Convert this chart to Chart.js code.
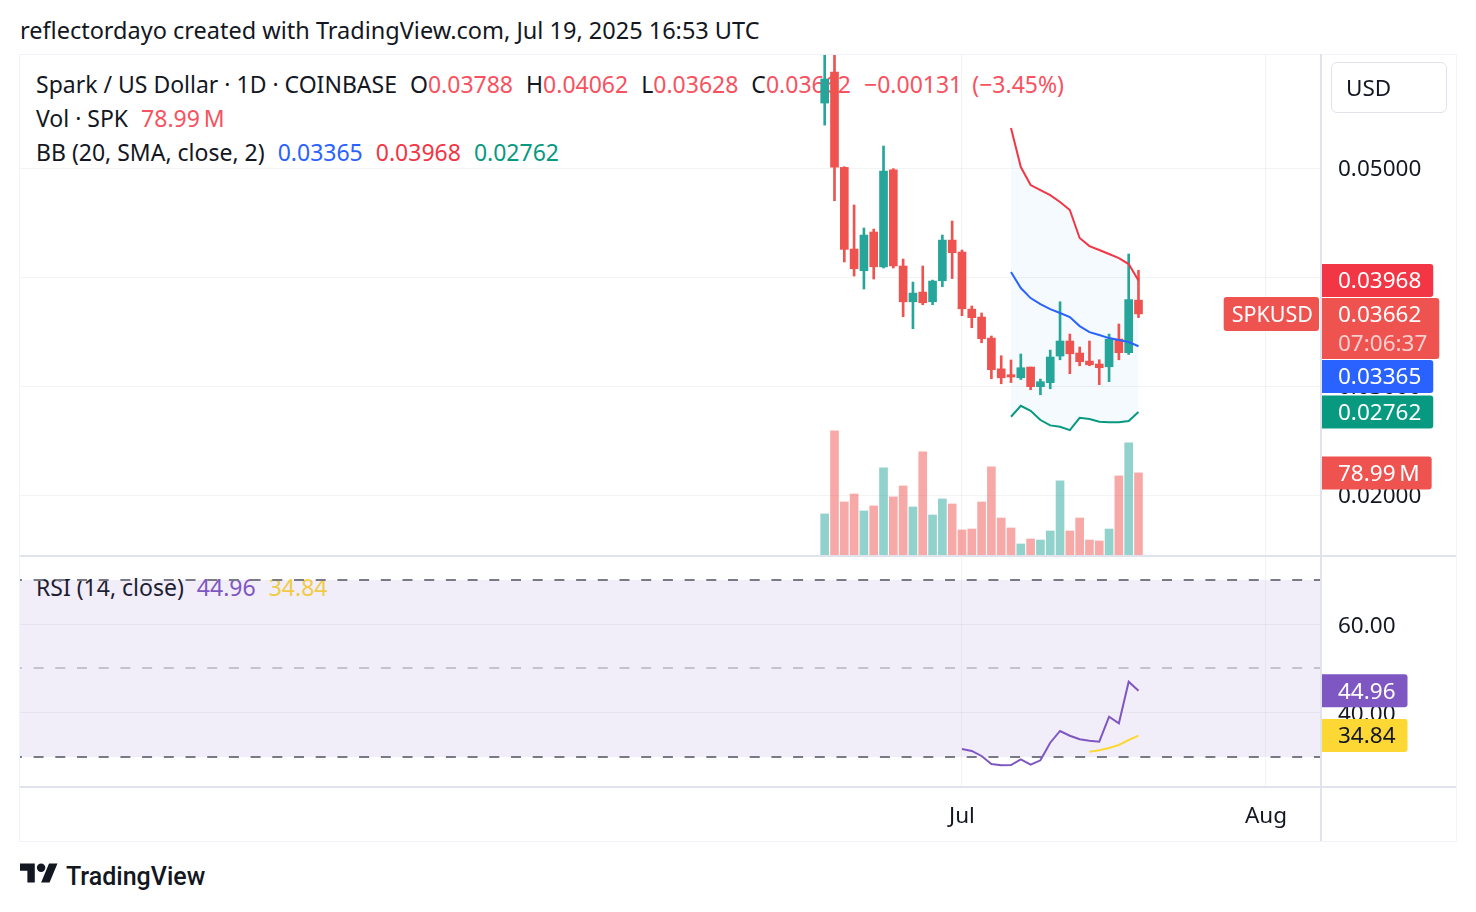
<!DOCTYPE html>
<html><head><meta charset="utf-8">
<script src="https://cdn.jsdelivr.net/npm/chart.js@4.4.1/dist/chart.umd.min.js"></script>
<style>
html,body{margin:0;padding:0;background:#fff;width:1476px;height:912px;overflow:hidden;font-family:"Noto Sans",Roboto,sans-serif;color:#131722;}
#title{position:absolute;left:20px;top:15px;font-size:23.5px;line-height:30px;white-space:nowrap;}
.leg{position:absolute;left:36px;font-size:23px;line-height:30px;white-space:nowrap;z-index:0;}
.leg span.g{margin-left:13px;}
canvas{position:absolute;z-index:1;}
.ln{position:absolute;z-index:2;}
#usd{position:absolute;left:1331px;top:62px;width:114px;height:49px;border:1px solid #e0e3eb;border-radius:6px;font-size:22.5px;line-height:49px;padding-left:0;box-sizing:content-box;z-index:3;}
#usd span{margin-left:14px;}
#wm{position:absolute;left:20px;top:859px;}
#wmt{position:absolute;left:66px;top:861px;font-family:Roboto,sans-serif;font-size:25px;font-weight:500;line-height:32px;color:#131722;}
</style></head>
<body>
<div id="title">reflectordayo created with TradingView.com, Jul 19, 2025 16:53 UTC</div>
<div class="leg" id="leg1" style="top:69px"></div>
<div class="leg" id="leg2" style="top:103px"></div>
<div class="leg" id="leg3" style="top:137px"></div>
<div class="leg" id="leg4" style="top:572px"></div>
<canvas id="cPrice" width="1436" height="500" style="left:20px;top:55px;width:1436px;height:500px"></canvas>
<canvas id="cRsi" width="1436" height="287" style="left:20px;top:555px;width:1436px;height:287px"></canvas>
<div class="ln" style="left:20px;top:54px;width:1436px;height:1px;background:#f0f3fa"></div>
<div class="ln" style="left:19px;top:54px;width:1px;height:788px;background:#f0f3fa"></div>
<div class="ln" style="left:1456px;top:54px;width:1px;height:788px;background:#f0f3fa"></div>
<div class="ln" style="left:1320px;top:54px;width:2px;height:788px;background:#e0e3eb"></div>
<div class="ln" style="left:20px;top:555px;width:1436px;height:2px;background:#e0e3eb"></div>
<div class="ln" style="left:20px;top:786px;width:1436px;height:2px;background:#e0e3eb"></div>
<div class="ln" style="left:20px;top:841px;width:1437px;height:1px;background:#f0f3fa"></div>
<div id="usd"><span>USD</span></div>
<svg id="wm" width="38" height="30" viewBox="0 0 36 28"><path d="M14 22H7V11H0V4h14v18zM28 22h-8l7.5-18h8L28 22z" fill="#131722"/><circle cx="20" cy="8" r="4" fill="#131722"/></svg>
<div id="wmt">TradingView</div>
<script>
// ---------- DATA ----------
const dates = ['2025-06-17','2025-06-18','2025-06-19','2025-06-20','2025-06-21','2025-06-22','2025-06-23','2025-06-24','2025-06-25','2025-06-26','2025-06-27','2025-06-28','2025-06-29','2025-06-30','2025-07-01','2025-07-02','2025-07-03','2025-07-04','2025-07-05','2025-07-06','2025-07-07','2025-07-08','2025-07-09','2025-07-10','2025-07-11','2025-07-12','2025-07-13','2025-07-14','2025-07-15','2025-07-16','2025-07-17','2025-07-18','2025-07-19'];
const opens  = [0.05596,0.05881,0.05006,0.04257,0.04058,0.04413,0.04092,0.04984,0.04101,0.03773,0.03862,0.03773,0.03966,0.04339,0.04229,0.03706,0.03633,0.03440,0.03158,0.03104,0.03076,0.03174,0.02994,0.03031,0.03275,0.03413,0.03303,0.03229,0.03202,0.03177,0.03431,0.03306,0.03788];
const highs  = [0.06250,0.06250,0.05012,0.04661,0.04450,0.04440,0.05202,0.04994,0.04165,0.03954,0.04101,0.03972,0.04385,0.04514,0.04248,0.03734,0.03670,0.03459,0.03278,0.03239,0.03294,0.03174,0.03064,0.03330,0.03773,0.03477,0.03358,0.03413,0.03241,0.03477,0.03569,0.04211,0.04062];
const lows   = [0.05394,0.04700,0.04138,0.04009,0.03890,0.03982,0.04083,0.04083,0.03636,0.03526,0.03746,0.03746,0.03911,0.03986,0.03645,0.03535,0.03397,0.03067,0.03021,0.03032,0.03060,0.02966,0.02920,0.02975,0.03241,0.03113,0.03186,0.03186,0.03013,0.03040,0.03241,0.03290,0.03628];
const closes = [0.05817,0.05009,0.04254,0.04076,0.04385,0.04094,0.04972,0.04101,0.03773,0.03853,0.03764,0.03963,0.04339,0.04223,0.03709,0.03627,0.03434,0.03150,0.03076,0.03083,0.03168,0.02994,0.03040,0.03266,0.03413,0.03296,0.03223,0.03195,0.03168,0.03431,0.03306,0.03793,0.03662];
const volumesM = [39.5,119.4,51.0,58.7,42.4,47.2,83.8,55.9,66.4,46.2,99.2,38.5,53.9,49.1,24.1,25.0,51.0,84.7,35.6,26.0,10.6,15.4,14.4,23.1,71.3,23.1,35.6,14.4,13.5,25.0,76.1,107.9,78.99];
const bbDates  = ['2025-07-06','2025-07-07','2025-07-08','2025-07-09','2025-07-10','2025-07-11','2025-07-12','2025-07-13','2025-07-14','2025-07-15','2025-07-16','2025-07-17','2025-07-18','2025-07-19'];
const bbUpper  = [0.05367,0.05009,0.04844,0.04798,0.04752,0.04688,0.04615,0.04358,0.04284,0.04248,0.04211,0.04174,0.04119,0.03968];
const bbBasis  = [0.04046,0.03899,0.03807,0.03752,0.03706,0.03670,0.03633,0.03550,0.03495,0.03468,0.03440,0.03422,0.03404,0.03365];
const bbLower  = [0.02718,0.02819,0.02773,0.02688,0.02639,0.02627,0.02596,0.02709,0.02697,0.02672,0.02667,0.02667,0.02679,0.02762];
const rsiDates = ['2025-07-01','2025-07-02','2025-07-03','2025-07-04','2025-07-05','2025-07-06','2025-07-07','2025-07-08','2025-07-09','2025-07-10','2025-07-11','2025-07-12','2025-07-13','2025-07-14','2025-07-15','2025-07-16','2025-07-17','2025-07-18','2025-07-19'];
const rsiValues = [31.81,31.36,30.23,28.42,28.12,28.19,29.48,28.26,29.25,33.23,35.88,34.81,34.00,33.68,33.46,39.11,37.62,47.02,44.96];
const rsiMaDates = ['2025-07-14','2025-07-15','2025-07-16','2025-07-17','2025-07-18','2025-07-19'];
const rsiMaValues = [31.20,31.51,32.03,32.71,33.84,34.84];
const priceTicks = [0.02,0.03,0.04,0.05];
const rsiTicks = [40,60];
const rsiLevels = [70,50,30];
const timeTickDates = ['2025-07-01','2025-08-01'];
const timeTickLabels = ['Jul','Aug'];
const countdown = '07:06:37';
const symbolTag = 'SPKUSD';

// ---------- LAYOUT CONSTANTS ----------
const FONT = '"Noto Sans", Roboto, sans-serif';
const AX = 22.5;
const xMin = -96.06, xMax = 36.51;
const priceMin = 0.0145, priceMax = 0.06037;
const volMax = 481;
const rsiMin = 23.22, rsiMax = 75.65;
const UP = '#26a69a', DOWN = '#ef5350';
const gridColor = 'rgba(42,46,57,0.06)';

function dayIndex(d){const p=d.split('-').map(Number);return (Date.UTC(p[0],p[1]-1,p[2])-Date.UTC(2025,6,1))/86400000;}
const xs = dates.map(dayIndex);
const n = closes.length;
const isUp = closes.map((c,i)=>c>=opens[i]);

// ---------- LEGENDS ----------
const RED='#f7525f';
const last=n-1;
const chg=closes[last]-closes[last-1];
const pct=chg/closes[last-1]*100;
document.getElementById('leg1').innerHTML='Spark / US Dollar \u00b7 1D \u00b7 COINBASE'+
 `<span class="g">O<span style="color:${RED}">${opens[last].toFixed(5)}</span></span>`+
 `<span class="g">H<span style="color:${RED}">${highs[last].toFixed(5)}</span></span>`+
 `<span class="g">L<span style="color:${RED}">${lows[last].toFixed(5)}</span></span>`+
 `<span class="g">C<span style="color:${RED}">${closes[last].toFixed(5)}</span></span>`+
 `<span class="g" style="color:${RED}">${(chg<0?'\u2212':'+')+Math.abs(chg).toFixed(5)}</span>`+
 `<span style="color:${RED};margin-left:10px">(${(pct<0?'\u2212':'+')+Math.abs(pct).toFixed(2)}%)</span>`;
document.getElementById('leg2').innerHTML='Vol \u00b7 SPK'+`<span class="g" style="color:${RED}">${volumesM[last].toFixed(2)}\u2009M</span>`;
document.getElementById('leg3').innerHTML='BB (20, SMA, close, 2)'+
 `<span class="g" style="color:#2962ff">${bbBasis[bbBasis.length-1].toFixed(5)}</span>`+
 `<span class="g" style="color:#f23645">${bbUpper[bbUpper.length-1].toFixed(5)}</span>`+
 `<span class="g" style="color:#089981">${bbLower[bbLower.length-1].toFixed(5)}</span>`;
document.getElementById('leg4').innerHTML='RSI (14, close)'+
 `<span class="g" style="color:#7e57c2">${rsiValues[rsiValues.length-1].toFixed(2)}</span>`+
 `<span class="g" style="color:#fdd835">${rsiMaValues[rsiMaValues.length-1].toFixed(2)}</span>`;

// ---------- TAG DRAWING ----------
function box(ctx,x,y,w,h,color,allRound){
  ctx.beginPath();
  if(ctx.roundRect) ctx.roundRect(x,y,w,h,allRound?3:[0,3,3,0]); else ctx.rect(x,y,w,h);
  ctx.fillStyle=color; ctx.fill();
}
function drawTags(chart, items){
  const ctx=chart.ctx, a=chart.chartArea;
  ctx.save();
  ctx.font=AX+'px '+FONT; ctx.textBaseline='middle'; ctx.textAlign='left';
  items.forEach(it=>{it.y=chart.scales[it.axis].getPixelForValue(it.v);});
  const groups={};
  items.forEach(it=>{(groups[it.axis]=groups[it.axis]||[]).push(it);});
  Object.values(groups).forEach(g=>{
    g.sort((p,q)=>p.y-q.y);
    let prev=-1e9;
    g.forEach(it=>{let top=it.y-16.5; if(top<prev+1) top=prev+1; it.top=top; prev=top+it.h;});
  });
  items.forEach(it=>{
    const tw=Math.max(ctx.measureText(it.t).width, it.sub?ctx.measureText(it.sub).width:0);
    const x=a.right+2;
    box(ctx,x,it.top,16+tw+12,it.h,it.c,false);
    ctx.fillStyle=it.tc||'#fff';
    ctx.fillText(it.t,x+16,it.top+18);
    if(it.sub){ctx.fillStyle='rgba(255,255,255,0.72)';ctx.fillText(it.sub,x+16,it.top+18+28.5);}
  });
  ctx.restore();
}

// ---------- PRICE CHART ----------
const priceTagPlugin={id:'priceTags',afterDraw(chart){
  const a=chart.chartArea, ctx=chart.ctx;
  drawTags(chart,[
    {axis:'y',v:bbUpper[bbUpper.length-1],t:bbUpper[bbUpper.length-1].toFixed(5),c:'#f23645',h:33},
    {axis:'y',v:closes[last],t:closes[last].toFixed(5),sub:countdown,c:'#ef5350',h:61},
    {axis:'y',v:bbBasis[bbBasis.length-1],t:bbBasis[bbBasis.length-1].toFixed(5),c:'#2962ff',h:33},
    {axis:'y',v:bbLower[bbLower.length-1],t:bbLower[bbLower.length-1].toFixed(5),c:'#089981',h:33},
    {axis:'yv',v:volumesM[last],t:volumesM[last].toFixed(2)+'\u2009M',c:'#ef5350',h:33}
  ]);
  ctx.save();
  ctx.font='21.5px '+FONT; ctx.textBaseline='middle';
  const y=chart.scales.y.getPixelForValue(closes[last]);
  const w=ctx.measureText(symbolTag).width+14;
  box(ctx,a.right-1-w,y-17,w,34,'#ef5350',true);
  ctx.fillStyle='#fff'; ctx.fillText(symbolTag,a.right-1-w+8,y+1.5);
  ctx.restore();
}};

new Chart(document.getElementById('cPrice'),{
  type:'bar',
  data:{datasets:[
    {label:'vol',yAxisID:'yv',order:10,grouped:false,barThickness:8,
     data:xs.map((x,i)=>({x,y:volumesM[i]})),
     backgroundColor:isUp.map(u=>u?'rgba(38,166,154,0.5)':'rgba(239,83,80,0.5)')},
    {label:'wick',yAxisID:'y',order:3,grouped:false,barThickness:2,
     data:xs.map((x,i)=>({x,y:[lows[i],highs[i]]})),
     backgroundColor:isUp.map(u=>u?UP:DOWN)},
    {label:'body',yAxisID:'y',order:2,grouped:false,barThickness:8,minBarLength:1,
     data:xs.map((x,i)=>({x,y:[opens[i],closes[i]]})),
     backgroundColor:isUp.map(u=>u?UP:DOWN)},
    {type:'line',label:'upper',yAxisID:'y',order:1,data:bbDates.map((d,i)=>({x:dayIndex(d),y:bbUpper[i]})),
     borderColor:'#f23645',borderWidth:2,pointRadius:0,tension:0,fill:{target:'+1'},backgroundColor:'rgba(33,150,243,0.05)'},
    {type:'line',label:'lower',yAxisID:'y',order:1,data:bbDates.map((d,i)=>({x:dayIndex(d),y:bbLower[i]})),
     borderColor:'#089981',borderWidth:2,pointRadius:0,tension:0,fill:false},
    {type:'line',label:'basis',yAxisID:'y',order:1,data:bbDates.map((d,i)=>({x:dayIndex(d),y:bbBasis[i]})),
     borderColor:'#2962ff',borderWidth:2,pointRadius:0,tension:0,fill:false}
  ]},
  options:{
    responsive:false,animation:false,devicePixelRatio:1,
    layout:{padding:0,autoPadding:false},
    plugins:{legend:{display:false},tooltip:{enabled:false},filler:{drawTime:'beforeDatasetsDraw'}},
    scales:{
      x:{type:'linear',min:xMin,max:xMax,offset:false,
         grid:{color:gridColor,drawTicks:false,offset:false},border:{display:false},ticks:{display:false},
         afterBuildTicks:s=>{s.ticks=timeTickDates.map(d=>({value:dayIndex(d)}));},
         afterFit:s=>{s.height=0;s.paddingLeft=0;s.paddingRight=0;}},
      y:{position:'right',min:priceMin,max:priceMax,
         grid:{color:gridColor,drawTicks:false},border:{display:false},
         ticks:{color:'#131722',font:{family:FONT,size:AX},padding:18,labelOffset:2,callback:v=>Number(v).toFixed(5)},
         afterBuildTicks:s=>{s.ticks=priceTicks.map(v=>({value:v}));},
         afterFit:s=>{s.width=136;s.paddingTop=0;s.paddingBottom=0;}},
      yv:{display:false,min:0,max:volMax}
    }
  },
  plugins:[priceTagPlugin]
});

// ---------- RSI CHART ----------
const rsiPlugin={id:'rsiBand',
  beforeDraw(chart){
    const a=chart.chartArea,y=chart.scales.y,ctx=chart.ctx;
    const t=y.getPixelForValue(rsiLevels[0]),b=y.getPixelForValue(rsiLevels[2]);
    ctx.save();ctx.fillStyle='rgba(126,87,194,0.1)';ctx.fillRect(a.left,t,a.right-a.left,b-t);ctx.restore();
  },
  beforeDatasetsDraw(chart){
    const a=chart.chartArea,y=chart.scales.y,ctx=chart.ctx;
    ctx.save();
    rsiLevels.forEach((lv,i)=>{
      const py=Math.round(y.getPixelForValue(lv));
      ctx.beginPath();
      ctx.setLineDash([10,11.7]);ctx.lineDashOffset=8.1;
      ctx.strokeStyle=i===1?'rgba(120,123,134,0.5)':'#787b86';
      ctx.lineWidth=i===1?1.5:2;
      ctx.moveTo(a.left,py);ctx.lineTo(a.right,py);ctx.stroke();
    });
    ctx.restore();
  },
  afterDraw(chart){
    drawTags(chart,[
      {axis:'y',v:rsiValues[rsiValues.length-1],t:rsiValues[rsiValues.length-1].toFixed(2),c:'#7e57c2',h:33},
      {axis:'y',v:rsiMaValues[rsiMaValues.length-1],t:rsiMaValues[rsiMaValues.length-1].toFixed(2),c:'#fdd835',tc:'#131722',h:33}
    ]);
  }
};
new Chart(document.getElementById('cRsi'),{
  type:'line',
  data:{datasets:[
    {label:'rsi',data:rsiDates.map((d,i)=>({x:dayIndex(d),y:rsiValues[i]})),borderColor:'#7e57c2',borderWidth:2,pointRadius:0,tension:0},
    {label:'ma',data:rsiMaDates.map((d,i)=>({x:dayIndex(d),y:rsiMaValues[i]})),borderColor:'#fdd835',borderWidth:2,pointRadius:0,tension:0}
  ]},
  options:{
    responsive:false,animation:false,devicePixelRatio:1,
    layout:{padding:0,autoPadding:false},
    plugins:{legend:{display:false},tooltip:{enabled:false}},
    scales:{
      x:{type:'linear',min:xMin,max:xMax,offset:false,
         grid:{color:gridColor,drawTicks:false},border:{display:false},
         ticks:{color:'#131722',font:{family:FONT,size:AX},padding:16,maxRotation:0,autoSkip:false,
                callback:(v)=>{const k=timeTickDates.findIndex(d=>dayIndex(d)===v);return k>=0?timeTickLabels[k]:'';}},
         afterBuildTicks:s=>{s.ticks=timeTickDates.map(d=>({value:dayIndex(d)}));},
         afterFit:s=>{s.height=55;s.paddingLeft=0;s.paddingRight=0;}},
      y:{position:'right',min:rsiMin,max:rsiMax,
         grid:{color:gridColor,drawTicks:false},border:{display:false},
         ticks:{color:'#131722',font:{family:FONT,size:AX},padding:18,labelOffset:2,callback:v=>Number(v).toFixed(2)},
         afterBuildTicks:s=>{s.ticks=rsiTicks.map(v=>({value:v}));},
         afterFit:s=>{s.width=136;s.paddingTop=0;s.paddingBottom=0;}}
    }
  },
  plugins:[rsiPlugin]
});
</script>
</body></html>
